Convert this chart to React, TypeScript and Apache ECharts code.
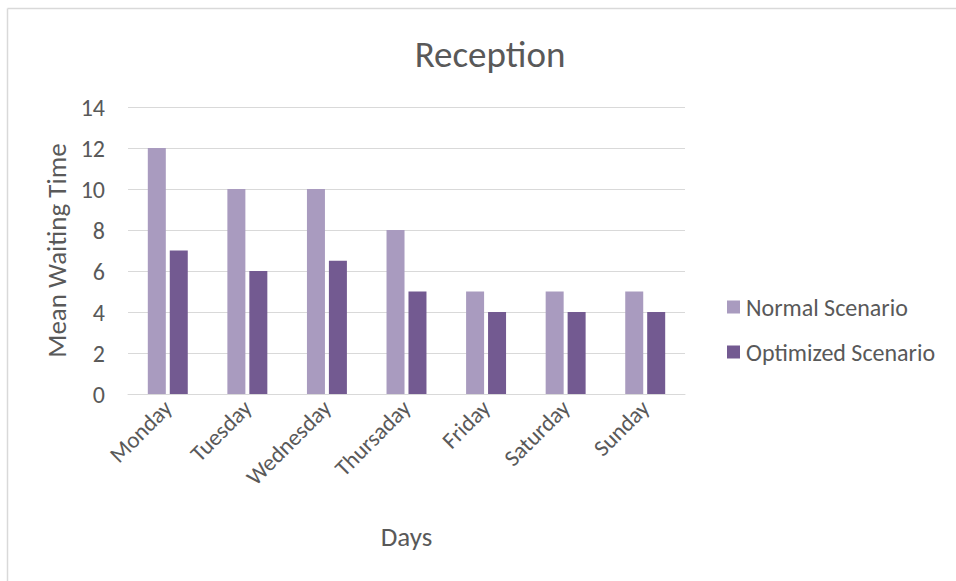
import React, { useEffect, useRef } from "react";
import * as echarts from "echarts";

const days = ["Monday", "Tuesday", "Wednesday", "Thursaday", "Friday", "Saturday", "Sunday"];
const normalScenario = [12, 10, 10, 8, 5, 5, 5];
const optimizedScenario = [7, 6, 6.5, 5, 4, 4, 4];

const FONT = "Carlito, Lato, 'Open Sans', sans-serif";
const TEXT = "#595959";

export default function App() {
  const ref = useRef<HTMLDivElement>(null);
  useEffect(() => {
    if (!ref.current) return;
    const chart = echarts.init(ref.current, undefined, { renderer: "svg" });
    chart.setOption({
      animation: false,
      backgroundColor: "#ffffff",
      textStyle: { fontFamily: FONT },
      title: {
        text: "Reception",
        left: 485,
        top: 31,
        textAlign: "center",
        textStyle: { fontFamily: FONT, fontSize: 37, fontWeight: "normal", color: TEXT },
      },
      graphic: [
        { type: "line", shape: { x1: 7.5, y1: 8.5, x2: 956, y2: 8.5 }, style: { stroke: "#D9D9D9", lineWidth: 1.5 } },
        { type: "line", shape: { x1: 7.5, y1: 8.5, x2: 7.5, y2: 581 }, style: { stroke: "#D9D9D9", lineWidth: 1.5 } },
      ],
      legend: {
        orient: "vertical",
        left: 722,
        top: 290,
        itemWidth: 13,
        itemHeight: 13,
        itemGap: 21,
        icon: "rect",
        textStyle: { fontFamily: FONT, fontSize: 24, color: TEXT, padding: [0, 0, 0, 1] },
        data: ["Normal Scenario", "Optimized Scenario"],
      },
      grid: { left: 128, right: 271, top: 107, bottom: 187, containLabel: false },
      xAxis: {
        type: "category",
        data: days,
        name: "Days",
        nameLocation: "middle",
        nameGap: 129,
        nameTextStyle: { fontFamily: FONT, fontSize: 27, color: TEXT },
        axisLine: { show: true, lineStyle: { color: "#D9D9D9", width: 1 } },
        axisTick: { show: false },
        axisLabel: { rotate: 45, margin: 10, fontFamily: FONT, fontSize: 23, color: TEXT, interval: 0 },
      },
      yAxis: {
        type: "value",
        min: 0,
        max: 14,
        interval: 2,
        name: "Mean Waiting Time",
        nameLocation: "middle",
        nameGap: 53,
        nameRotate: 90,
        nameTextStyle: { fontFamily: FONT, fontSize: 27, color: TEXT },
        axisLine: { show: false },
        axisTick: { show: false },
        axisLabel: { margin: 23, fontFamily: FONT, fontSize: 24, color: TEXT },
        splitLine: { lineStyle: { color: "#D9D9D9", width: 1 } },
      },
      series: [
        {
          name: "Normal Scenario",
          type: "bar",
          data: normalScenario,
          barWidth: 18,
          barGap: "22%",
          itemStyle: { color: "#A99BBF" },
        },
        {
          name: "Optimized Scenario",
          type: "bar",
          data: optimizedScenario,
          barWidth: 18,
          itemStyle: { color: "#735A91" },
        },
      ],
    });
    return () => chart.dispose();
  }, []);
  return <div ref={ref} style={{ position: "fixed", left: 0, top: 0, width: 956, height: 581 }} />;
}
